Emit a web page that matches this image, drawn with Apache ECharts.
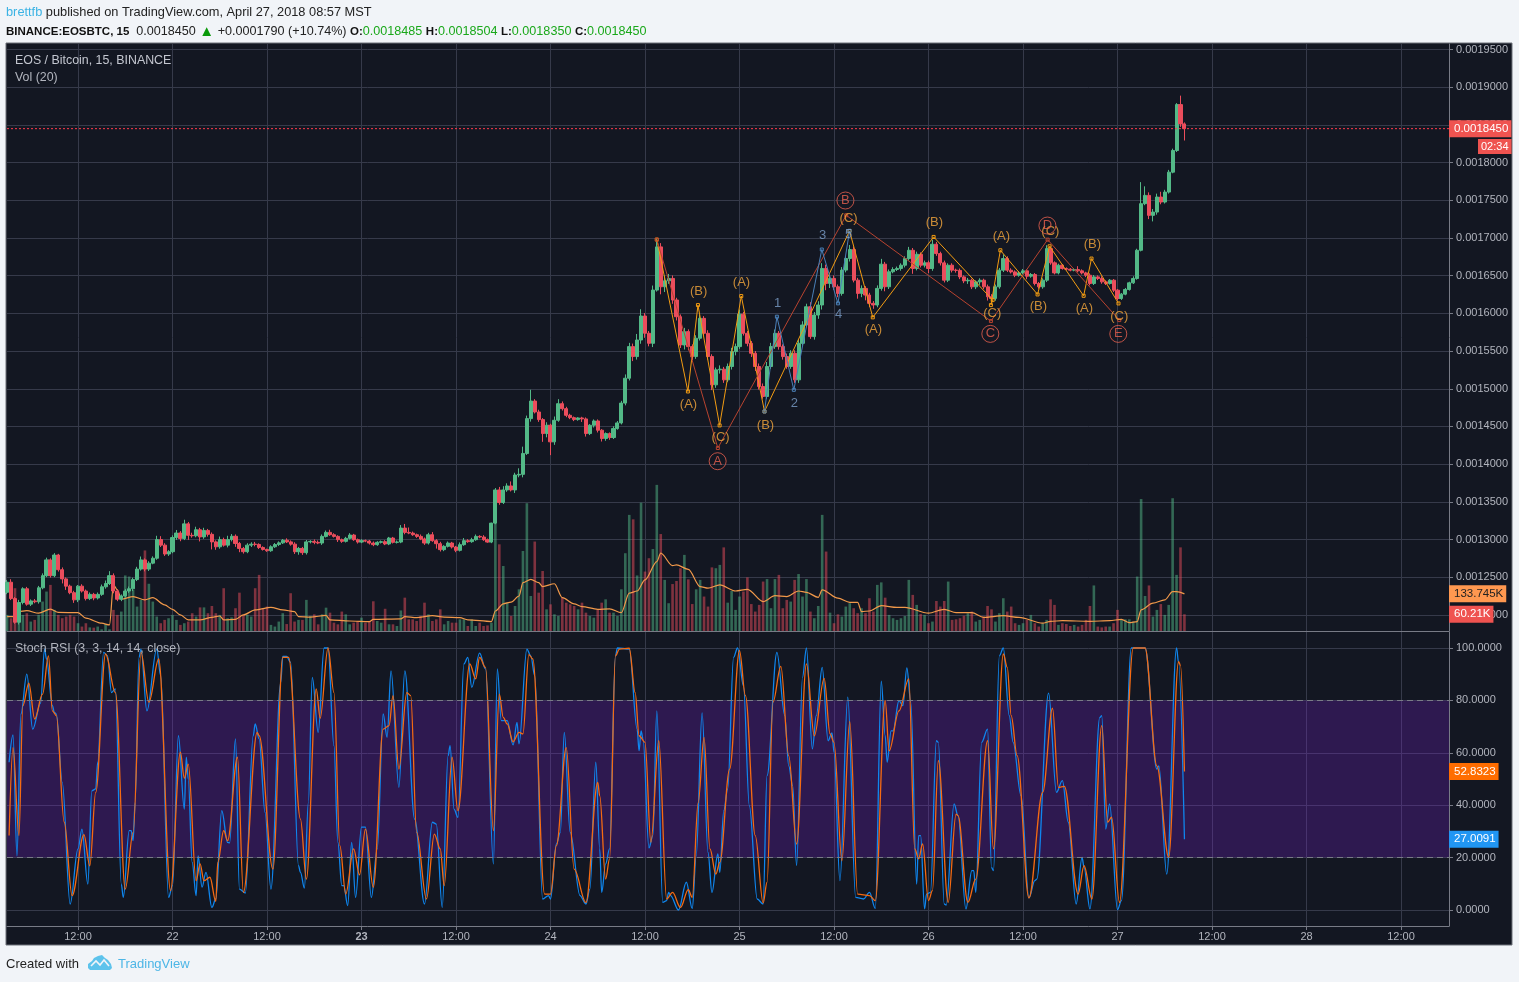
<!DOCTYPE html>
<html>
<head>
<meta charset="utf-8">
<title>EOSBTC</title>
<script src="https://cdn.jsdelivr.net/npm/echarts@6/dist/echarts.min.js"></script>
<style>
html, body { margin: 0; padding: 0; background: #f1f4f8; }
#main { width: 1519px; height: 982px; }
</style>
</head>
<body>
<div id="main"></div>
<script>
// prices are in 1e-7 BTC, one candle per 30 min starting at 03:00 on the 21st
var firstOpen = 12300;
var lastPrice = 18450;
var closes = [
  12434,12217,11903,12165,12347,12143,12186,12175,12360,12521,12730,12521,12795,12600,12478,12382,12295,12200,12382,12317,
  12217,12273,12225,12273,12373,12417,12521,12317,12208,12252,12317,12347,12469,12608,12730,12608,12687,12752,13000,12926,
  12808,12839,13026,13087,13013,13208,13056,13050,13130,13035,13121,13069,12969,12904,13000,12926,13000,13043,12948,12882,
  12839,12926,12939,12935,12895,12869,12852,12904,12934,12956,12991,12969,12939,12839,12882,12826,12969,
  12976,12963,12954,13042,13095,13064,13042,12998,12976,13016,13060,12998,12967,12985,12980,12954,12932,12963,12972,12941,
  13020,12963,12967,13152,13095,13086,13064,13042,13007,12954,13064,12985,12945,12866,12910,12954,12901,12857,12932,12985,
  12972,12998,13042,13033,12998,12967,13218,13658,13491,13658,13711,13658,13856,13865,14142,14604,14837,14692,14591,14406,
  14516,14296,14582,14802,14736,14648,14617,14591,14613,14600,14406,14516,14573,14450,14340,14406,14353,14472,14547,14810,
  15140,15559,15427,15647,15965,15736,15603,16309,16882,16353,16432,16463,16177,15956,15581,15758,15559,15427,15670,15934,
  15736,15427,15052,15251,15260,15118,15295,15493,15559,15990,15736,15603,15471,15295,15030,14898,15295,15559,15736,15559,
  15427,15295,15471,15118,15603,15846,16088,15692,15978,16111,16596,16397,16463,16353,16265,16574,16728,16847,16441,16265,
  16331,16243,16133,16111,16331,16653,16353,16552,16582,16596,16639,16727,16837,16595,16784,16639,16670,16595,16917,16793,
  16670,16440,16639,16573,16570,16484,16431,16440,16352,16418,16440,16352,16220,16198,16352,16573,16727,16573,16550,16506,
  16537,16564,16493,16515,16396,16352,16440,16859,16670,16537,16639,16595,16586,16573,16581,16564,16537,16506,16396,16484,
  16462,16418,16396,16440,16308,16198,16255,16317,16405,16462,16837,17455,17565,17300,17344,17543,17477,17609,17873,18160,
  18769,18513,18450
];
var wickUp = [
  30,40,20,35,20,25,20,25,25,30,30,20,25,15,30,20,20,25,15,25,
  20,25,20,25,30,40,60,30,25,20,25,30,25,30,45,20,25,25,50,45,
  25,20,30,40,25,55,25,35,40,25,35,20,25,20,40,25,50,30,25,20,
  20,25,25,30,15,15,10,20,20,20,15,25,20,25,20,20,25,15,25,25,
  25,25,35,20,15,15,20,25,15,15,20,15,15,20,15,15,20,15,15,20,
  40,55,65,20,15,25,20,25,35,20,25,15,20,15,15,30,35,20,25,25,
  15,25,15,5,25,40,50,35,60,30,80,90,40,150,25,30,20,40,20,50,
  60,30,25,20,15,10,15,20,15,20,20,15,15,15,30,25,30,50,50,40,
  80,90,40,30,60,110,50,70,60,40,30,30,50,30,30,40,50,30,40,30,
  30,50,30,40,50,40,60,30,30,30,30,40,40,60,50,50,30,30,40,40,
  40,50,50,40,60,40,50,70,50,50,40,30,40,30,60,40,30,40,30,30,
  30,40,70,30,30,30,25,25,30,45,30,35,25,30,30,60,30,25,30,25,
  25,20,25,20,30,20,20,25,20,30,35,30,30,55,30,25,20,25,25,20,
  20,20,20,25,45,30,20,20,15,15,15,20,45,20,15,25,25,20,30,20,
  15,15,15,15,20,15,30,20,286,120,40,40,45,70,30,30,25,20,119,20
];
var wickDown = [
  25,20,20,30,25,20,25,20,25,20,20,25,20,25,60,50,20,40,30,20,
  25,20,30,20,20,25,20,30,25,25,20,25,30,20,20,30,25,15,20,25,
  25,25,20,30,35,20,60,25,20,60,25,30,100,40,25,20,30,25,45,50,
  25,20,25,25,20,15,15,15,15,20,15,15,20,30,40,30,25,20,25,15,
  25,15,15,15,30,20,15,15,15,20,15,15,20,20,15,15,15,15,15,15,
  15,25,15,15,20,15,25,20,15,65,25,20,15,20,25,15,15,15,15,15,
  15,15,10,15,15,30,20,25,20,40,30,40,20,40,20,30,110,50,176,40,
  20,25,25,20,20,15,40,40,20,30,30,40,30,30,20,15,20,30,30,60,
  40,50,60,40,50,20,100,70,40,50,50,40,60,50,50,30,30,30,40,70,
  40,50,40,30,40,50,30,30,40,50,60,40,30,30,30,30,40,40,30,30,
  40,40,30,30,30,40,50,60,90,60,40,50,30,30,40,30,70,50,70,50,
  50,30,30,60,30,20,20,30,30,25,70,25,30,30,60,30,30,35,30,25,
  30,30,30,30,40,30,30,40,30,50,40,30,25,25,25,20,25,20,20,40,
  20,25,25,25,25,25,20,20,15,15,15,15,20,20,25,25,20,20,25,20,
  15,25,25,20,15,15,15,15,15,20,50,80,35,30,20,20,15,20,40,157
];
// volume in K
var volumes = [
  58,46,154,100,58,64,34,40,58,106,142,166,76,58,46,52,58,52,28,16,
  28,13,12,16,6,25,6,76,58,70,200,196,148,88,112,290,170,106,52,28,
  40,46,58,40,22,28,34,64,52,85,85,64,90,64,58,154,46,49,82,138,
  58,58,52,154,202,82,88,22,16,34,64,25,136,34,40,40,112,
  54,60,24,60,84,66,30,24,70,60,24,30,36,48,30,36,107,36,30,80,
  24,24,18,74,120,42,42,36,54,102,60,36,42,78,24,36,30,30,42,42,
  18,42,18,30,18,20,30,390,312,234,102,54,90,150,288,460,126,322,138,216,
  78,96,60,54,120,102,96,90,78,102,66,54,48,78,102,114,66,66,54,
  150,280,418,402,200,462,214,262,295,526,349,184,100,169,180,226,274,186,97,150,
  184,124,88,229,226,238,301,102,144,76,124,142,193,97,70,94,178,187,82,187,
  202,82,112,106,184,205,124,187,70,46,90,418,286,66,28,60,52,88,100,82,
  64,82,64,118,70,166,175,120,58,46,40,46,54,184,130,94,61,58,28,34,
  108,88,108,178,40,42,46,55,64,70,34,40,52,90,78,34,64,118,70,88,
  28,22,28,40,58,28,16,28,40,114,94,22,28,25,18,22,16,22,40,90,
  164,16,13,16,16,28,76,40,42,42,34,196,475,126,164,52,76,97,58,94,
  478,202,301,60.21
];
// Vol MA(20), candle index / value
var maBars = [0,2,3,5,8,11,13,18,20,24,26,27,28,29,32,35,37,40,42,44,46,49,52,54,55,58,60,63,67,70,73,74,77,81,82,87,92,93,100,101,104,108,111,115,117,123,124,126,128,130,131,133,135,136,139,141,144,146,150,153,156,158,160,162,165,166,169,170,173,176,178,181,185,188,192,195,198,201,203,206,207,211,214,216,217,219,222,226,228,234,238,241,245,248,253,257,263,265,268,275,280,283,285,287,288,291,294,296,297,299];
var maValues = [52,52,70,73,64,79,67,66,46,28,22,166,148,115,124,112,120,94,78,58,40,40,49,54,40,42,58,76,85,76,70,52,50,56,40,36,34,42,44,52,48,55,50,48,40,34,72,98,104,126,174,186,174,160,170,120,98,88,78,80,66,136,144,184,250,280,235,238,222,160,154,166,144,150,106,127,124,144,139,121,148,118,103,103,70,72,91,85,85,64,78,66,66,49,55,49,28,35,37,35,37,42,30,34,76,100,112,142,142,133.745];

// Stoch RSI turning points, index counted in 15 min bars from the same start
var kBars = [1,3,5,7,10,13,17,19,20,23,24,25,28,32,36,38,41,43,45,46,49,51,53,55,58,59,62,63,64,65,67,68,71,76,78,82,84,87,90,91,92,94,96,97,99,101,104,106,109,112,113,116,118,121,125,126,128,131,134,139,140,142,144,148,
  149,151,153,155,158,161,163,166,168,170,171,173,175,177,180,182,185,188,191,193,195,199,202,207,212,216,218,221,224,225,227,229,232,234,236,240,243,247,249,251,254,257,259,260,264,266,268,272,275,276,279,281,283,286,291,294,296,299,
  301,302,304,306,309,310,316,320,321,322,323,326,328,330,333,335,336,337,341,345,348,350,353,356,358,361,362,364,366,369,371,374,377,381,384,386,391,395,397,399,401,404,406,409,411,414,417,419,420,423,427,431,435,438,441,444,446,447,449,450,
  453,455,457,459,462,463,464,466,467,469,472,473,476,477,481,483,487,490,491,492,495,498,500,501,504,506,509,511,515,519,522,523,529,533,536,539,543,546,547,550,555,556,558,560,564,566,571,578,584,585,589,594,595,598];
var kValues = [56.4,66.8,20.7,74.8,90,69,79,99.6,95.8,78,75.4,74.8,48.7,2.3,23.3,30.9,9.9,45.5,46.2,56.4,98.3,97,83,84.4,9.9,4.8,30.3,30.3,26.5,41,96.4,99.6,76,99.6,89.4,4.8,9.3,66.5,38.5,58.3,50,18.2,5.5,20.7,8.7,14.4,1,4.2,37.9,25.8,25.6,65.3,8,6.5,66.5,71,65.3,37.3,8,86.9,96.8,96.8,94.5,16.9,
  14.4,8.4,41,88.8,67.8,100,100,62.7,25.8,9.3,9.3,1.7,25.8,4.8,31.6,31.6,4.8,23.3,74.8,65.9,91.3,46.8,91.3,34.7,2.3,33.5,32.8,1,58.9,62.7,38.5,35.4,93.9,96.4,85,98,92,17.6,92,72.3,72.3,63,71.6,63.4,99.6,97,89.4,4.2,5.5,4.2,25.2,29.6,67.8,29.6,5.5,2.3,8,56.4,
  23.3,6.7,17.6,23.3,97,100,99.6,69,60.8,68.4,65.3,23.7,28.4,76,2.9,3.6,6.7,5.5,0,10.6,0.6,20.7,75.2,22,6.7,21.4,14.4,37.9,46.2,96.4,100,85.6,39.8,4.2,2.3,51.3,98.3,74.2,55,47.5,17,88.8,100,61.5,74.2,92.6,64.6,67.6,60.2,11.2,81.2,4.8,4.2,6.7,0.6,87.3,66.5,56.4,68.4,68.4,
  79.9,78,92.4,79.3,9.9,28.4,28.4,0.4,6.1,6.7,64.6,64,2.3,1.9,40.5,36,0.4,15,15,6.7,64,69,16.3,15,97,100,74.2,64,43.6,4.6,11.2,11.8,82.8,44.9,49.4,33.5,2.3,20.1,16.3,0.4,73.5,74.2,30.9,40.5,0.1,3.6,100,100,53.8,55,13.7,100,94.5,27.0091];
var dBars = [1,3,6,8,11,14,18,21,23,25,29,33,39,42,45,50,55,60,64,68,72,77,83,88,90,92,96,98,100,103,106,107,110,112,117,120,127,128,135,140,143,
  149,152,157,159,163,166,169,172,176,179,182,186,191,194,196,199,203,205,208,213,217,220,222,226,229,235,238,240,243,247,250,252,254,257,260,262,265,267,273,276,279,284,288,294,300,
  301,304,306,309,311,316,319,321,324,327,331,335,338,342,346,348,351,354,357,360,362,367,372,375,380,384,386,389,393,397,401,406,410,415,418,420,424,428,432,438,441,446,448,453,
  458,461,463,465,468,470,473,478,482,483,488,492,498,501,506,508,510,513,519,526,531,534,537,544,547,551,556,559,561,565,572,578,584,590,595,596,598];
var dValues = [28.4,62,28.4,78,86.6,72.9,82.4,97,76,74.2,33.5,5.5,28.8,16.9,44.9,97.7,83,8,29.6,98.3,79.3,95.8,7.4,60.2,50.3,55.7,11.2,17.6,11.2,12.5,3.3,18.2,30.3,26.5,58.3,6.7,67.8,66.5,15.6,96.4,96.4,
  34.7,11.8,84.4,73.2,100,83,24.6,6.1,23.3,13.4,30.9,8.7,69,70.4,81.8,53.8,83,81.8,29.6,4.2,29,23.3,9.3,58.3,37.9,93.9,88.2,96.4,92.6,30.3,82.4,73.5,71,64.2,67.8,67.2,97.5,95.8,6.1,6.1,24.6,62,15.6,2.9,48.7,
  43.6,11.8,19.5,97,99.6,99.9,83,66.5,64,25.8,64.6,4.2,6.7,1,7.8,4.8,41,65.9,23.3,13.7,18.2,53.8,99,81.8,28.4,2.7,10.6,79.3,93,58.9,25.2,93.9,66.5,88.4,67.2,64,18.8,71.9,6.1,5.5,3.6,79.9,60.8,76,
  88.2,23.3,19.5,25.2,3.6,7.4,57,2.9,36.6,36,2.9,11.8,64.6,23.3,97.7,92.6,74.2,58.9,4.6,44.9,77,46.8,47.2,6.1,16.9,4.2,70.4,33.5,35.4,2.9,100,100,55,20.1,94.8,93.3,52.8323];

// wave drawings, in 15 min bars and price
var orangeWaveBars = [330,345.8,350.9,361.9,372.9,384.7,427.9,439.7,470.6,500.6,499.7,504.5,523.4,529.5,546.8,550.8,564.5];
var orangeWavePrices = [16979,14964,16110,14514,16230,14699,17094,15947,17014,16176,16110,16837,16251,16890,16233,16727,16132];
var redWaveBars = [330,361,426.2,499.7,528.5,564.9];
var redWavePrices = [16979,14214,17301,15898,16978,15911];
var blueWaveBars = [384.7,391,399.6,413.8,422,427.9];
var blueWavePrices = [14699,15956,14986,16847,16133,17094];
var orangeLabels = ['(A)','(B)','(C)','(A)','(B)','(C)','(A)','(B)','(A)','(C)','(B)','(C)','(A)','(B)','(C)'];
var orangeLabelBars = [346.1,351.2,362.4,373,385.2,427.4,440,471,505,500.4,523.8,529.9,547.2,551.2,564.9];
var orangeLabelPrices = [14797,16287,14358,16406,14518,17258,15781,17204,17018,15994,16087,17085,16061,16912,15954];
var blueLabels = ['1','2','3','4','5'];
var blueLabelBars = [391.3,399.9,414.2,422.3,427.4];
var blueLabelPrices = [16127,14810,17032,15981,17045];
var redLabels = ['A','B','C','D','E'];
var redLabelBars = [360.9,425.8,499.4,528.4,564.4];
var redLabelPrices = [14039,17497,15728,17165,15728];

var priceTicks = [12000,12500,13000,13500,14000,14500,15000,15500,16000,16500,17000,17500,18000,18500,19000,19500];
var stochTicks = [0,20,40,60,80,100];
var timeTicks = [12,24,36,48,60,72,84,96,108,120,132,144,156,168,180];

var upColor = '#53b987', downColor = '#eb4d5c';
var gridColor = '#363a4a', axisColor = '#787b86', textColor = '#b2b5be';
var fontName = '"Liberation Sans", Arial, sans-serif';
var hourMin = 2.984, hourMax = 186.095;

function candleHour(i) { return 3 + i / 2; }
function barHour(b) { return 3 + b / 4; }
function pairs(bars, vals) {
  return bars.map(function (b, i) { return [barHour(b), vals[i]]; });
}

var candleData = closes.map(function (c, i) {
  var o = i == 0 ? firstOpen : closes[i - 1];
  return [candleHour(i), o, c, Math.min(o, c) - wickDown[i], Math.max(o, c) + wickUp[i]];
});
var volumeData = volumes.map(function (v, i) {
  var o = i == 0 ? firstOpen : closes[i - 1];
  return { value: [candleHour(i), v], itemStyle: { color: closes[i] >= o ? 'rgba(83,185,135,.5)' : 'rgba(235,77,92,.5)' } };
});
var maData = maBars.map(function (b, i) { return [candleHour(b), maValues[i]]; });

function waveSeries(name, bars, prices, color) {
  return {
    name: name, type: 'line', xAxisIndex: 0, yAxisIndex: 0,
    data: pairs(bars, prices),
    symbol: 'rect', symbolSize: 3, z: 6,
    lineStyle: { color: color, width: 1 },
    itemStyle: { color: 'transparent', borderColor: color, borderWidth: 1 }
  };
}
function labelSeries(names, bars, prices, label) {
  return {
    type: 'scatter', xAxisIndex: 0, yAxisIndex: 0, symbolSize: 0, z: 7,
    data: names.map(function (n, i) { return { name: n, value: [barHour(bars[i]), prices[i]] }; }),
    label: Object.assign({ show: true, position: 'inside', formatter: '{b}', fontFamily: fontName, fontSize: 13 }, label)
  };
}
function tagLabel(text, bg, color) {
  return {
    show: true, position: 'end', distance: 0, formatter: text, backgroundColor: bg, color: color || '#fff',
    padding: [3, 3, 2, 5], fontFamily: fontName, fontSize: 11.5
  };
}
var noLine = { color: 'transparent', width: 0 };

var graphics = [
  { type: 'rect', z: -10, shape: { x: 6, y: 43, width: 1506, height: 902 }, style: { fill: '#131722', stroke: '#6d7079', lineWidth: 1 } },
  { type: 'text', z: 100, style: { x: 6, y: 6, text: '{u|brettfb} published on TradingView.com, April 27, 2018 08:57 MST', font: '12.8px ' + fontName, fill: '#222',
      rich: { u: { fill: '#3bb3e4', font: '12.8px ' + fontName } } } },
  { type: 'text', z: 100, style: { x: 6, y: 24, font: '12.6px ' + fontName, fill: '#222',
      text: '{b|BINANCE:EOSBTC, 15}  0.0018450 {t|▲} +0.0001790 (+10.74%) {b|O:}{g|0.0018485} {b|H:}{g|0.0018504} {b|L:}{g|0.0018350} {b|C:}{g|0.0018450}',
      rich: {
        b: { fill: '#111', font: 'bold 11.5px ' + fontName },
        g: { fill: '#1aa81a', font: '12.6px ' + fontName },
        t: { fill: '#0a9a0a', font: '15px ' + fontName }
      } } },
  { type: 'text', z: 100, style: { x: 15, y: 55, text: 'EOS / Bitcoin, 15, BINANCE', fill: '#c4c7d0', font: '12.4px ' + fontName } },
  { type: 'text', z: 100, style: { x: 15, y: 72, text: 'Vol (20)', fill: '#b2b5be', font: '12.4px ' + fontName } },
  { type: 'text', z: 100, style: { x: 15, y: 643, text: 'Stoch RSI (3, 3, 14, 14, close)', fill: '#b2b5be', font: '12.4px ' + fontName } },
  { type: 'text', z: 100, style: { x: 1478, y: 139, text: '02:34', fill: '#fff', font: '11px ' + fontName, backgroundColor: '#ef5350', padding: [2, 3, 2, 3] } },
  { type: 'text', z: 100, style: { x: 6, y: 958, text: 'Created with', fill: '#222', font: '13px ' + fontName } },
  { type: 'polygon', z: 100, shape: { points: [[88,968],[88,964],[92,961],[94,958],[98,956],[102,955],[105,958],[108,960],[111,964],[112,968],[110,970],[90,970]] }, style: { fill: '#5dc3ec' } },
  { type: 'polyline', z: 101, shape: { points: [[91,966],[96,961],[100,965],[104,960],[109,966]] }, style: { stroke: '#f1f4f8', lineWidth: 1.6, fill: null } },
  { type: 'text', z: 100, style: { x: 118, y: 958, text: 'TradingView', fill: '#4db6e6', font: '13px ' + fontName } }
];

var myChart = echarts.init(document.getElementById('main'));
var option = {
  animation: false,
  backgroundColor: '#f1f4f8',
  grid: [
    { left: 7, width: 1442, top: 44, height: 587 },
    { left: 7, width: 1442, top: 632, height: 294 }
  ],
  xAxis: [
    { type: 'value', gridIndex: 0, min: hourMin, max: hourMax, axisLine: { show: true, onZero: false, lineStyle: { color: axisColor } },
      axisTick: { show: false, customValues: timeTicks }, axisLabel: { show: false, customValues: timeTicks },
      splitLine: { show: true, lineStyle: { color: gridColor } } },
    { type: 'value', gridIndex: 1, min: hourMin, max: hourMax, axisLine: { show: true, onZero: false, lineStyle: { color: axisColor } },
      axisTick: { show: true, length: 4, customValues: timeTicks, lineStyle: { color: axisColor } },
      axisLabel: {
        show: true, customValues: timeTicks, color: textColor, fontFamily: fontName, fontSize: 11, margin: 5,
        formatter: function (h) {
          if (h % 24 != 0) return '12:00';
          var d = 21 + h / 24;
          return d == 23 ? '{b|23}' : '' + d;
        },
        rich: { b: { fontWeight: 'bold', fontSize: 11, color: textColor, fontFamily: fontName } }
      },
      splitLine: { show: true, lineStyle: { color: gridColor } } }
  ],
  yAxis: [
    { type: 'value', gridIndex: 0, position: 'right', min: 11787, max: 19573, scale: true,
      axisLine: { show: true, lineStyle: { color: axisColor } },
      axisTick: { show: true, length: 4, customValues: priceTicks, lineStyle: { color: axisColor } },
      axisLabel: { show: true, customValues: priceTicks, color: textColor, fontFamily: fontName, fontSize: 11, margin: 7, padding: [2, 0, 0, 0],
        formatter: function (v) { return (v / 1e7).toFixed(7); } },
      splitLine: { show: true, lineStyle: { color: gridColor } } },
    { type: 'value', gridIndex: 0, position: 'right', min: 0, max: 2113, show: false, splitLine: { show: false } },
    { type: 'value', gridIndex: 1, position: 'right', min: -6.1, max: 106.1,
      axisLine: { show: true, lineStyle: { color: axisColor } },
      axisTick: { show: true, length: 4, customValues: stochTicks, lineStyle: { color: axisColor } },
      axisLabel: { show: true, customValues: stochTicks, color: textColor, fontFamily: fontName, fontSize: 11, margin: 7, padding: [2, 0, 0, 0],
        formatter: function (v) { return v.toFixed(4); } },
      splitLine: { show: true, lineStyle: { color: gridColor } } }
  ],
  series: [
    { name: 'Vol', type: 'bar', xAxisIndex: 0, yAxisIndex: 1, barWidth: 2.6, z: 2, data: volumeData,
      markLine: { silent: true, symbol: 'none', lineStyle: noLine,
        data: [{ yAxis: 60.21, lineStyle: noLine, label: tagLabel('60.21K', '#ef5350') }] } },
    { name: 'Vol MA', type: 'line', xAxisIndex: 0, yAxisIndex: 1, z: 3, symbol: 'none', data: maData, smooth: 0.3, smoothMonotone: 'x',
      lineStyle: { color: '#f2994a', width: 1.2 },
      markLine: { silent: true, symbol: 'none', lineStyle: noLine,
        data: [{ yAxis: 133.745, lineStyle: noLine, label: tagLabel('133.745K', '#ff9850', '#222') }] } },
    { name: 'EOSBTC', type: 'candlestick', xAxisIndex: 0, yAxisIndex: 0, barWidth: 3.6, z: 4,
      encode: { x: 0, y: [1, 2, 3, 4] }, data: candleData,
      itemStyle: { color: upColor, color0: downColor, borderColor: upColor, borderColor0: downColor, borderWidth: 1 } },
    { name: 'Last', type: 'line', xAxisIndex: 0, yAxisIndex: 0, z: 5, symbol: 'none',
      data: [[hourMin, lastPrice], [hourMax, lastPrice]],
      lineStyle: { color: '#ff3b4e', type: [2, 2], width: 1 },
      markLine: { silent: true, symbol: 'none', lineStyle: noLine,
        data: [{ yAxis: lastPrice, lineStyle: noLine, label: tagLabel('0.0018450', '#ef5350') }] } },
    waveSeries('orange', orangeWaveBars, orangeWavePrices, '#f39c12'),
    waveSeries('red', redWaveBars, redWavePrices, '#b8432f'),
    waveSeries('blue', blueWaveBars, blueWavePrices, '#4a80b8'),
    labelSeries(orangeLabels, orangeLabelBars, orangeLabelPrices, { color: '#f5a83c' }),
    labelSeries(blueLabels, blueLabelBars, blueLabelPrices, { color: '#7c9fc9' }),
    labelSeries(redLabels, redLabelBars, redLabelPrices, { color: '#e8604f', width: 17, height: 17, lineHeight: 17, align: 'center', verticalAlign: 'middle', borderColor: '#e8604f', borderWidth: 1, borderRadius: 9 }),
    { name: 'K', type: 'line', xAxisIndex: 1, yAxisIndex: 2, z: 3, symbol: 'none', data: pairs(kBars, kValues), smooth: 0.35, smoothMonotone: 'x',
      lineStyle: { color: '#0f86ee', width: 1.3 },
      markArea: { silent: true, itemStyle: { color: 'rgba(127,31,218,.25)' }, data: [[{ yAxis: 20 }, { yAxis: 80 }]] },
      markLine: { silent: true, symbol: 'none',
        lineStyle: { color: axisColor, type: [6, 4], width: 1 },
        data: [
          { yAxis: 80, label: { show: false } },
          { yAxis: 20, label: { show: false } },
          { yAxis: 27.0091, lineStyle: noLine, label: tagLabel('27.0091', '#2196f3') }
        ] } },
    { name: 'D', type: 'line', xAxisIndex: 1, yAxisIndex: 2, z: 4, symbol: 'none', data: pairs(dBars, dValues), smooth: 0.35, smoothMonotone: 'x',
      lineStyle: { color: '#f56a12', width: 1.3 },
      markLine: { silent: true, symbol: 'none', lineStyle: noLine,
        data: [{ yAxis: 52.8323, lineStyle: noLine, label: tagLabel('52.8323', '#ff6d00') }] } }
  ],
  graphic: graphics
};
myChart.setOption(option);
</script>
</body>
</html>
